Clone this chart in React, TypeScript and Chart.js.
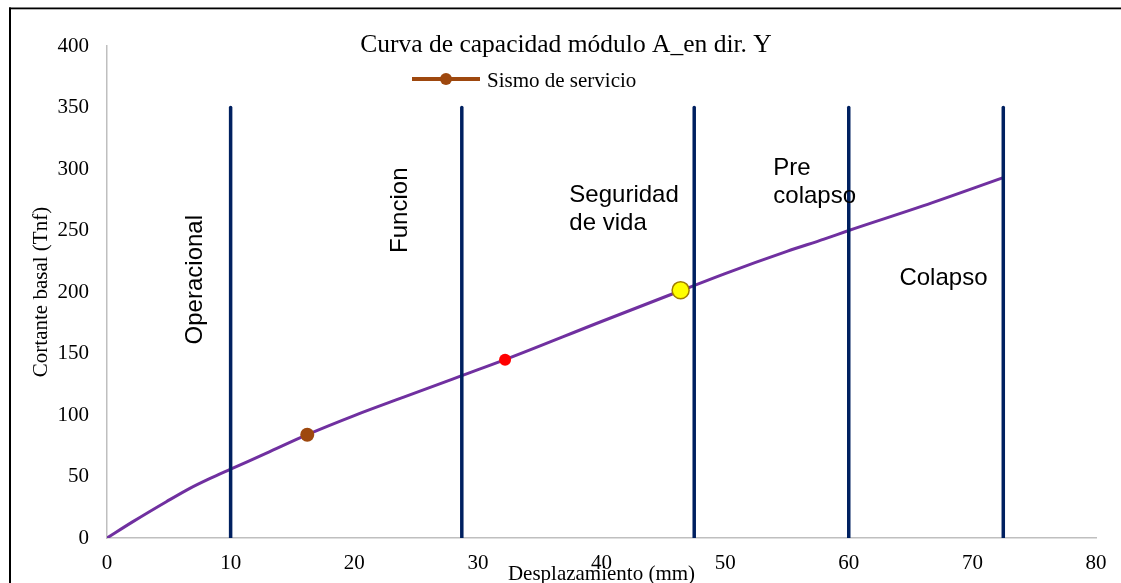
import React, { useEffect, useRef } from "react";
import { Chart, registerables } from "chart.js";

Chart.register(...registerables);

// ---- Data ----
const chartTitle = "Curva de capacidad módulo A_en dir. Y";
const xAxisTitle = "Desplazamiento (mm)";
const yAxisTitle = "Cortante basal (Tnf)";
const legendLabel = "Sismo de servicio";

const xMin = 0;
const xMax = 80;
const xStep = 10;
const yMin = 0;
const yMax = 400;
const yStep = 50;

// capacity curve (displacement mm, base shear Tnf)
const curveX = [0, 2.1, 4.8, 6.7, 8.3, 10, 12.9, 16.2, 20, 24, 28.7, 32.2, 40, 46.4, 50, 55, 58, 60, 66, 72.5];
const curveY = [0, 13.3, 29.5, 40.4, 48.3, 56, 69, 84, 99.5, 114.5, 132, 145, 176, 201, 215, 233, 243, 250, 270, 293];

// performance level limits (vertical lines)
const limitX = [10, 28.7, 47.5, 60, 72.5];
const limitTop = 350;

// highlighted points
const servicioX = [16.2];
const servicioY = [84];
const redX = [32.2];
const redY = [145];
const yellowX = [46.4];
const yellowY = [201.5];

// zone labels (anchored in data coordinates)
const zoneTexts = [["Operacional"], ["Funcion"], ["Seguridad", "de vida"], ["Pre", "colapso"], ["Colapso"]];
const zoneAnchorX = [7.7, 24.3, 37.4, 53.9, 64.1];
const zoneAnchorY = [210, 266.5, 273, 295, 206];
const zoneVertical = [true, true, false, false, false];

const SERIF = '"Liberation Serif", "Times New Roman", serif';
const SANS = '"Liberation Sans", Arial, sans-serif';

const PURPLE = "#7030A0";
const NAVY = "#002060";
const BROWN = "#9E480E";

export default function App() {
  const ref = useRef<HTMLCanvasElement | null>(null);

  useEffect(() => {
    const canvas = ref.current;
    if (!canvas) return;

    const framePlugin = {
      id: "frame",
      beforeDraw(chart: any) {
        const ctx = chart.ctx;
        ctx.save();
        ctx.fillStyle = "#ffffff";
        ctx.fillRect(0, 0, chart.width, chart.height);
        ctx.fillStyle = "#000000";
        ctx.fillRect(9, 7.5, chart.width, 1.8);
        ctx.fillRect(9, 7.5, 2, chart.height);
        ctx.restore();
      },
    };

    const textPlugin = {
      id: "texts",
      afterDraw(chart: any) {
        const ctx = chart.ctx;
        const xs = chart.scales.x;
        const ys = chart.scales.y;
        const area = chart.chartArea;
        ctx.save();
        ctx.fillStyle = "#000000";

        // title
        ctx.font = `25.5px ${SERIF}`;
        ctx.textAlign = "center";
        ctx.textBaseline = "alphabetic";
        ctx.fillText(chartTitle, 566, 52);

        // legend
        ctx.strokeStyle = BROWN;
        ctx.lineWidth = 4;
        ctx.lineCap = "butt";
        ctx.beginPath();
        ctx.moveTo(412, 79);
        ctx.lineTo(480, 79);
        ctx.stroke();
        ctx.fillStyle = BROWN;
        ctx.beginPath();
        ctx.arc(446, 79, 6, 0, Math.PI * 2);
        ctx.fill();
        ctx.fillStyle = "#000000";
        ctx.font = `21px ${SERIF}`;
        ctx.textAlign = "left";
        ctx.fillText(legendLabel, 487, 87);

        // axis titles
        ctx.font = `21px ${SERIF}`;
        ctx.textAlign = "center";
        ctx.fillText(xAxisTitle, (area.left + area.right) / 2, 580);
        ctx.save();
        ctx.translate(47, (area.top + area.bottom) / 2);
        ctx.rotate(-Math.PI / 2);
        ctx.fillText(yAxisTitle, 0, 0);
        ctx.restore();

        // zone labels
        ctx.font = `24px ${SANS}`;
        zoneTexts.forEach((lines, i) => {
          const px = xs.getPixelForValue(zoneAnchorX[i]);
          const py = ys.getPixelForValue(zoneAnchorY[i]);
          if (zoneVertical[i]) {
            ctx.save();
            ctx.translate(px, py);
            ctx.rotate(-Math.PI / 2);
            ctx.textAlign = "center";
            ctx.fillText(lines[0], 0, 0);
            ctx.restore();
          } else {
            ctx.textAlign = "left";
            lines.forEach((t, j) => ctx.fillText(t, px, py + j * 27.5));
          }
        });
        ctx.restore();
      },
    };

    const limitDatasets = limitX.map((x) => ({
      label: "limit",
      data: [
        { x, y: 0 },
        { x, y: limitTop },
      ],
      showLine: true,
      borderColor: NAVY,
      borderWidth: 3.5,
      borderCapStyle: "round" as const,
      pointRadius: 0,
      order: 0,
    }));

    const chart = new Chart(canvas, {
      type: "scatter",
      data: {
        datasets: [
          ...limitDatasets,
          {
            label: legendLabel,
            data: servicioX.map((x, i) => ({ x, y: servicioY[i] })),
            pointRadius: 7,
            pointBackgroundColor: BROWN,
            pointBorderColor: BROWN,
            pointBorderWidth: 0,
            showLine: false,
            order: 1,
          },
          {
            label: "red",
            data: redX.map((x, i) => ({ x, y: redY[i] })),
            pointRadius: 6,
            pointBackgroundColor: "#FF0000",
            pointBorderColor: "#FF0000",
            pointBorderWidth: 0,
            showLine: false,
            order: 1,
          },
          {
            label: "yellow",
            data: yellowX.map((x, i) => ({ x, y: yellowY[i] })),
            pointRadius: 8.5,
            pointBackgroundColor: "#FFFF00",
            pointBorderColor: "#A07C00",
            pointBorderWidth: 1.5,
            showLine: false,
            order: 1,
          },
          {
            label: "curve",
            data: curveX.map((x, i) => ({ x, y: curveY[i] })),
            showLine: true,
            borderColor: PURPLE,
            borderWidth: 3,
            pointRadius: 0,
            cubicInterpolationMode: "monotone" as const,
            order: 2,
          },
        ],
      },
      options: {
        responsive: false,
        animation: false,
        devicePixelRatio: 1,
        layout: { padding: { top: 46, right: 25, left: 0, bottom: 0 } },
        plugins: {
          legend: { display: false },
          title: { display: false },
          tooltip: { enabled: false },
        },
        scales: {
          x: {
            type: "linear",
            min: xMin,
            max: xMax,
            ticks: {
              stepSize: xStep,
              font: { family: SERIF, size: 21 },
              color: "#000000",
              padding: 13,
              maxRotation: 0,
            },
            grid: { display: false, drawTicks: false, tickLength: 0 },
            border: { display: true, color: "#BFBFBF", width: 1.5 },
            afterFit: (s: any) => {
              s.height = 45;
            },
          },
          y: {
            type: "linear",
            min: yMin,
            max: yMax,
            ticks: {
              stepSize: yStep,
              font: { family: SERIF, size: 21 },
              color: "#000000",
              padding: 18,
            },
            grid: { display: false, drawTicks: false, tickLength: 0 },
            border: { display: true, color: "#BFBFBF", width: 1.5 },
            afterFit: (s: any) => {
              s.width = 107;
            },
          },
        },
      },
      plugins: [framePlugin, textPlugin],
    });

    return () => chart.destroy();
  }, []);

  return (
    <canvas
      ref={ref}
      width={1121}
      height={583}
      style={{ position: "fixed", left: 0, top: 0, width: 1121, height: 583 }}
    />
  );
}
